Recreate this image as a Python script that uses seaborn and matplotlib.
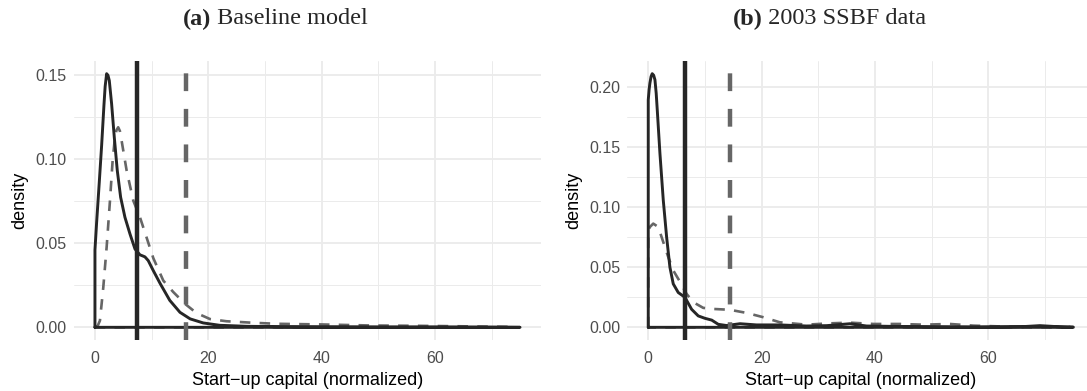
import numpy as np
import pandas as pd
import matplotlib
matplotlib.use("Agg")
import matplotlib.pyplot as plt
import seaborn as sns

# ---------------- data ----------------
a_solid_x = [0, 0.29, 0.76, 1.18, 1.59, 1.8, 2.06, 2.3, 2.53, 2.94, 3.41, 3.94, 4.53, 5.29, 6.18, 7.06,
             7.94, 8.4, 8.82, 9.4, 10.3, 11.5, 13.2, 15.0, 16.8, 19.1, 22.0, 26.8, 32, 40, 50, 60, 70, 75]
a_solid_y = [0.0459, 0.062, 0.086, 0.108, 0.132, 0.143, 0.1505, 0.1495, 0.1464, 0.1326, 0.1128, 0.093,
             0.0772, 0.0653, 0.0554, 0.0465, 0.0430, 0.0424, 0.0418, 0.0396, 0.0336, 0.0260, 0.0160,
             0.0089, 0.0050, 0.0026, 0.0012, 0.0006, 0.0004, 0.0003, 0.0002, 0.0002, 0.0001, 0.0]
a_dash_x = [0, 0.5, 0.88, 1.47, 2.06, 2.65, 3.12, 3.53, 3.8, 4.1, 4.4, 4.7, 5.59, 6.76, 7.94, 9.1, 10.3,
            12.06, 13.8, 15.9, 17.9, 20.3, 23.2, 27.9, 32, 40, 48.5, 56.8, 65, 73]
a_dash_y = [0, 0.001, 0.004, 0.0237, 0.0475, 0.0752, 0.099, 0.1128, 0.117, 0.1187, 0.1165, 0.1108,
            0.093, 0.0752, 0.0653, 0.0534, 0.0410, 0.0277, 0.0210, 0.0139, 0.0085, 0.0049, 0.0036,
            0.0027, 0.0021, 0.0017, 0.0011, 0.0009, 0.0006, 0.0003]
b_solid_x = [0, 0.15, 0.29, 0.5, 0.7, 0.95, 1.18, 1.4, 1.59, 2.06, 2.65, 3.24, 3.82, 4.41, 5.29, 6.47,
             7.65, 8.82, 10.0, 11.2, 12.35, 13.8, 16.2, 19.1, 23.2, 27.9, 31.5, 35.6, 38.5, 45.6, 57.4,
             66.2, 69.1, 72, 75]
b_solid_y = [0.1894, 0.198, 0.2034, 0.209, 0.2113, 0.2100, 0.2062, 0.195, 0.181, 0.1449, 0.1059, 0.0752,
             0.0501, 0.0362, 0.0290, 0.0250, 0.0150, 0.0095, 0.0075, 0.0060, 0.0025, 0.0015, 0.0030,
             0.0020, 0.0020, 0.0011, 0.0014, 0.0030, 0.0011, 0.0006, 0.0003, 0.0006, 0.0014, 0.0006, 0.0002]
b_dash_x = [0, 0.29, 0.88, 1.76, 2.65, 3.53, 4.41, 5.59, 6.76, 7.94, 9.7, 11.5, 14.4, 17.35, 20.3,
            23.2, 27.9, 32, 35.6, 39.7, 44.4, 48.5, 53.2, 57.4, 63.2, 74.4]
b_dash_y = [0.0808, 0.0836, 0.0864, 0.0836, 0.071, 0.0585, 0.0474, 0.0380, 0.0279, 0.0209, 0.0162,
            0.0153, 0.0146, 0.0120, 0.0084, 0.0042, 0.0022, 0.0033, 0.0039, 0.0028, 0.0028, 0.0022,
            0.0028, 0.0014, 0.0006, 0.0003]
a_means = [7.4, 16.1]   # solid, dashed
b_means = [6.5, 14.5]
a_yticks = [0.00, 0.05, 0.10, 0.15]
b_yticks = [0.00, 0.05, 0.10, 0.15, 0.20]
x_ticks = [0, 20, 40, 60]
titles = [("(a)", "Baseline model"), ("(b)", "2003 SSBF data")]
xlabel = "Start\u2212up capital (normalized)"
ylabel = "density"

# ---------------- style ----------------
sns.set_theme(style="white")
plt.rcParams["font.family"] = ["Liberation Sans", "DejaVu Sans"]

W, H = 1087, 391
fig = plt.figure(figsize=(W / 100, H / 100), dpi=100)

SOLID = "#262626"
DASH = "#666666"
GRID = "#EBEBEB"
TICK = "#4D4D4D"


def outline(xs, ys):
    xs = list(xs); ys = list(ys)
    px = [xs[0]] + xs + [xs[-1], xs[0]]
    py = [0.0] + ys + [0.0, 0.0]
    return pd.DataFrame({"x": px, "y": py})


def panel(rect, sx, sy, dx, dy, means, yticks, ymax):
    ax = fig.add_axes(rect)
    ax.set_facecolor("white")
    for s in ax.spines.values():
        s.set_visible(False)
    xr = 75
    ax.set_xlim(-0.05 * xr, xr * 1.05)
    ax.set_ylim(-0.05 * ymax, ymax * 1.05)
    ax.set_xticks(x_ticks)
    ax.set_xticks([10, 30, 50, 70], minor=True)
    ax.set_yticks(yticks)
    ystep = yticks[1] - yticks[0]
    ax.set_yticks([t + ystep / 2 for t in yticks if t + ystep / 2 < ymax * 1.05], minor=True)
    ax.set_xticklabels([str(t) for t in x_ticks])
    ax.set_yticklabels([f"{t:.2f}" for t in yticks])
    ax.grid(True, which="major", color=GRID, lw=1.3)
    ax.grid(True, which="minor", color=GRID, lw=0.7)
    ax.set_axisbelow(True)
    ax.tick_params(axis="y", which="both", length=0, labelsize=11.5, labelcolor=TICK, pad=5)
    ax.tick_params(axis="x", which="both", length=0, labelsize=11.5, labelcolor=TICK, pad=8)
    sns.lineplot(data=outline(dx, dy), x="x", y="y", sort=False, estimator=None, ax=ax,
                 color=DASH, lw=1.9, linestyle=(0, (4, 3.5)))
    sns.lineplot(data=outline(sx, sy), x="x", y="y", sort=False, estimator=None, ax=ax,
                 color=SOLID, lw=2.1)
    ax.axvline(means[0], color=SOLID, lw=3.2)
    ax.axvline(means[1], color=DASH, lw=3.2, linestyle=(0, (4, 4)))
    ax.set_xlabel(xlabel, fontsize=13, color="black", labelpad=4)
    ax.set_ylabel(ylabel, fontsize=13, color="black", labelpad=5)
    return ax


ax1 = panel([73.7 / W, 51 / H, 467.6 / W, 279 / H], a_solid_x, a_solid_y, a_dash_x, a_dash_y,
            a_means, a_yticks, 0.1505)
ax2 = panel([627 / W, 51 / H, 467.6 / W, 279 / H], b_solid_x, b_solid_y, b_dash_x, b_dash_y,
            b_means, b_yticks, 0.2113)

# titles: bold "(a)" followed by regular text, centered
renderer = fig.canvas.get_renderer()
for (lab, txt), cx in zip(titles, [275, 829.5]):
    y = 1 - 19 / H
    t1 = fig.text(0, y, lab, fontsize=17.5, fontweight="bold", family="Liberation Serif", va="center")
    t2 = fig.text(0, y, " " + txt, fontsize=17.5, family="Liberation Serif", va="center")
    w1 = t1.get_window_extent(renderer).width
    w2 = t2.get_window_extent(renderer).width
    x0 = cx - (w1 + w2) / 2
    t1.set_x(x0 / W)
    t2.set_x((x0 + w1) / W)

fig.savefig("out.png", dpi=100)
